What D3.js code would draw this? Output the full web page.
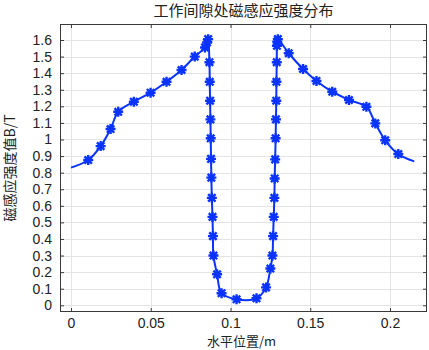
<!DOCTYPE html>
<html>
<head>
<meta charset="utf-8">
<script src="https://cdn.jsdelivr.net/npm/d3@7"></script>
<style>
html,body{margin:0;padding:0;background:#fff;}
svg{display:block;}
</style>
</head>
<body>
<svg id="chart" width="429" height="350"></svg>
<script>
// ---- data ----
const titleText = "工作间隙处磁感应强度分布";
const xLabelText = "水平位置/m";
const yLabelText = "磁感应强度值B/T";

const xTicks = [0, 0.05, 0.1, 0.15, 0.2];
const xTickLabels = ["0", "0.05", "0.1", "0.15", "0.2"];
const yTicks = [0,0.1,0.2,0.3,0.4,0.5,0.6,0.7,0.8,0.9,1,1.1,1.2,1.3,1.4,1.5,1.6];
const yTickLabels = ["0","0.1","0.2","0.3","0.4","0.5","0.6","0.7","0.8","0.9","1","1.1","1.2","1.3","1.4","1.5","1.6"];

// position along the gap (m)
const posX = [0.0000, 0.0108, 0.0186, 0.0248, 0.0296, 0.0394, 0.0499, 0.0599, 0.0693, 0.0776, 0.0840, 0.0853, 0.0860,
  0.0868, 0.0870, 0.0872, 0.0874, 0.0876, 0.0878, 0.0880, 0.0883, 0.0887, 0.0890, 0.0893, 0.0916, 0.0944,
  0.1038, 0.1163,
  0.1223, 0.1250, 0.1263, 0.1267, 0.1271, 0.1275, 0.1277, 0.1280, 0.1283, 0.1285, 0.1287, 0.1288, 0.1290,
  0.1291, 0.1293, 0.1297,
  0.1365, 0.1455, 0.1539, 0.1638, 0.1743, 0.1852, 0.1908, 0.1970, 0.2052, 0.2152];
// flux density (T)
const fluxB = [0.830, 0.876, 0.960, 1.063, 1.167, 1.228, 1.282, 1.348, 1.419, 1.500, 1.555, 1.585, 1.605,
  1.466, 1.348, 1.234, 1.121, 1.007, 0.883, 0.770, 0.648, 0.533, 0.417, 0.300, 0.187, 0.073,
  0.036, 0.042,
  0.108, 0.222, 0.300, 0.417, 0.533, 0.648, 0.765, 0.880, 1.007, 1.121, 1.234, 1.348, 1.466,
  1.565, 1.590, 1.605,
  1.520, 1.425, 1.353, 1.288, 1.238, 1.197, 1.097, 0.995, 0.912, 0.868];
// whether a marker is drawn at that sample
const hasMarker = [0,1,1,1,1,1,1,1,1,1,1,1,1,
  1,1,1,1,1,1,1,1,1,1,1,1,1,
  1,1,
  1,1,1,1,1,1,1,1,1,1,1,1,1,
  1,1,1,
  1,1,1,1,1,1,1,1,1,0];

// ---- layout ----
const svg = d3.select("#chart");
const L = 60, R = 427, T = 24, B = 312;
const x = d3.scaleLinear().domain([-0.0069, 0.2232]).range([L, R]);
const y = d3.scaleLinear().domain([-0.0405, 1.6965]).range([B, T]);

const blue = "#0a33ff";
const axisCol = "#3a3a3a";
const gridCol = "#e4e4e4";
const numFont = "'Liberation Sans', Arial, sans-serif";
const cjkFont = "'Noto Sans CJK SC', 'Liberation Sans', sans-serif";

// grid
const g = svg.append("g");
g.selectAll(".gx").data(xTicks).enter().append("line")
  .attr("x1", d => Math.round(x(d)) + 0.5).attr("x2", d => Math.round(x(d)) + 0.5)
  .attr("y1", T).attr("y2", B).attr("stroke", gridCol).attr("stroke-width", 1);
g.selectAll(".gy").data(yTicks).enter().append("line")
  .attr("y1", d => Math.round(y(d)) + 0.5).attr("y2", d => Math.round(y(d)) + 0.5)
  .attr("x1", L).attr("x2", R).attr("stroke", gridCol).attr("stroke-width", 1);

// axes via d3 axis generators (inward ticks)
const tl = 4;
const xAxisB = d3.axisBottom(x).tickValues(xTicks).tickFormat((d,i) => xTickLabels[i]).tickSizeInner(-tl).tickSizeOuter(0).tickPadding(6);
const xAxisT = d3.axisTop(x).tickValues(xTicks).tickFormat("").tickSizeInner(-tl).tickSizeOuter(0);
const yAxisL = d3.axisLeft(y).tickValues(yTicks).tickFormat((d,i) => yTickLabels[i]).tickSizeInner(-tl).tickSizeOuter(0).tickPadding(8);
const yAxisR = d3.axisRight(y).tickValues(yTicks).tickFormat("").tickSizeInner(-tl).tickSizeOuter(0);

function styleAxis(sel){
  sel.select(".domain").remove();
  sel.selectAll("line").attr("stroke", axisCol);
  sel.selectAll("text").attr("fill", "#222").style("font-family", numFont).style("font-size", "14px");
}
svg.append("g").attr("transform", `translate(0,${B})`).call(xAxisB).call(styleAxis);
svg.append("g").attr("transform", `translate(0,${T})`).call(xAxisT).call(styleAxis);
svg.append("g").attr("transform", `translate(${L},0)`).call(yAxisL).call(styleAxis);
svg.append("g").attr("transform", `translate(${R},0)`).call(yAxisR).call(styleAxis);

// box
svg.append("rect").attr("x", L + 0.5).attr("y", T + 0.5).attr("width", R - L - 1).attr("height", B - T - 1)
  .attr("fill", "none").attr("stroke", axisCol).attr("stroke-width", 1);

// data line
const pts = posX.map((v, i) => ({x: v, y: fluxB[i], m: hasMarker[i]}));
const line = d3.line().x(d => x(d.x)).y(d => y(d.y)).curve(d3.curveCatmullRom.alpha(0.5));
svg.append("path").datum(pts).attr("d", line)
  .attr("fill", "none").attr("stroke", blue).attr("stroke-width", 2).attr("stroke-linejoin", "round");

// asterisk markers
const r = 5, rd = 3.7;
const starPath = `M${-r},0L${r},0M0,${-r}L0,${r}M${-rd},${-rd}L${rd},${rd}M${-rd},${rd}L${rd},${-rd}`;
svg.append("g").selectAll("path").data(pts.filter(d => d.m)).enter().append("path")
  .attr("transform", d => `translate(${x(d.x)},${y(d.y)})`)
  .attr("d", starPath).attr("stroke", blue).attr("stroke-width", 2.4).attr("fill", "none");

// title and labels
svg.append("text").attr("x", (L + R) / 2).attr("y", 16).attr("text-anchor", "middle")
  .style("font-family", cjkFont).style("font-size", "15px").attr("fill", "#222").text(titleText);
svg.append("text").attr("x", (L + R) / 2 - 2).attr("y", 345.5).attr("text-anchor", "middle")
  .style("font-family", cjkFont).style("font-size", "13px").attr("fill", "#222").text(xLabelText);
svg.append("text").attr("transform", `translate(15,${(T + B) / 2}) rotate(-90)`).attr("text-anchor", "middle")
  .style("font-family", cjkFont).style("font-size", "14px").attr("fill", "#222").text(yLabelText);
</script>
</body>
</html>
